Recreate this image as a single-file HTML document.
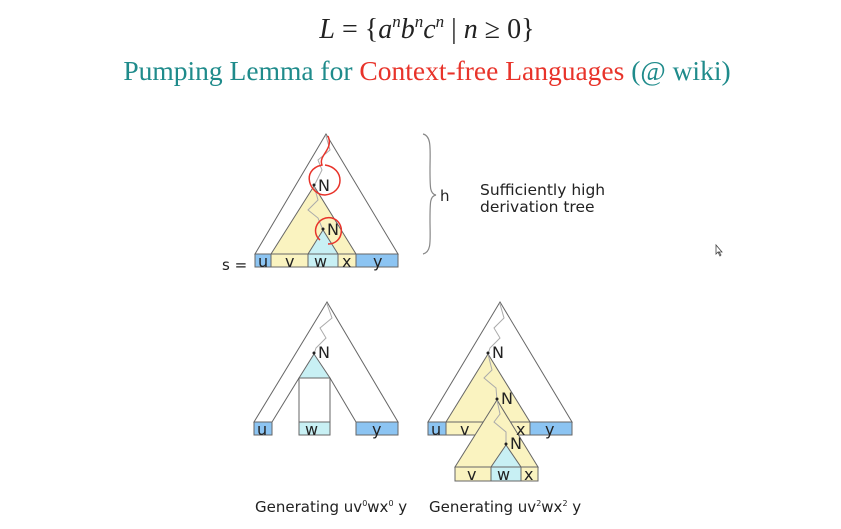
<!DOCTYPE html>
<html><head><style>
body{margin:0;background:#fff;width:841px;height:529px;overflow:hidden}
svg{display:block}
</style></head><body>
<svg width="841" height="529" viewBox="0 0 841 529" xmlns="http://www.w3.org/2000/svg">
<text x="427" y="38" text-anchor="middle" font-family="Liberation Serif,serif" font-size="28" fill="#222"><tspan font-style="italic">L</tspan> = {<tspan font-style="italic">a</tspan><tspan font-style="italic" font-size="17" dy="-11">n</tspan><tspan font-style="italic" dy="11">b</tspan><tspan font-style="italic" font-size="17" dy="-11">n</tspan><tspan font-style="italic" dy="11">c</tspan><tspan font-style="italic" font-size="17" dy="-11">n</tspan><tspan dy="11"> | </tspan><tspan font-style="italic">n</tspan> ≥ 0}</text>
<text x="427" y="80" text-anchor="middle" font-family="Liberation Serif,serif" font-size="27.5" fill="#1f8b8b">Pumping Lemma for <tspan fill="#e8332a">Context-free Languages</tspan> (@ wiki)</text>

<g stroke="#666" stroke-width="1">
<polygon points="326,134 255,254 398,254" fill="#fff"/>
<polygon points="314,186 271,254 356,254" fill="#faf3c0"/>
<polygon points="323,230 308,254 338,254" fill="#c8f0f4"/>
<polyline points="326,136 330,150 318,160 322,170 316,182 314,186" fill="none" stroke="#aaa"/>
<polyline points="314,186 318,200 308,210 318,218 323,230" fill="none" stroke="#aaa"/>
<rect x="255" y="254" width="16" height="13" fill="#8cc4f2"/>
<rect x="271" y="254" width="37" height="13" fill="#faf3c0"/>
<rect x="308" y="254" width="30" height="13" fill="#c8f0f4"/>
<rect x="338" y="254" width="18" height="13" fill="#faf3c0"/>
<rect x="356" y="254" width="42" height="13" fill="#8cc4f2"/>
</g>
<g font-family="DejaVu Sans,sans-serif" font-size="16" fill="#222">
<text x="258" y="267">u</text><text x="285" y="267">v</text><text x="314" y="267">w</text><text x="342" y="267">x</text><text x="373" y="267">y</text>
<text x="222" y="270" font-size="15">s =</text>
<circle cx="314" cy="185" r="1.5"/><text x="318" y="191">N</text>
<circle cx="323" cy="229" r="1.5"/><text x="327" y="235">N</text>
<text x="440" y="201" font-size="15">h</text>
<text x="480" y="195" font-size="15.5">Sufficiently high</text>
<text x="480" y="212" font-size="15.5">derivation tree</text>
</g>
<g fill="none" stroke="#e8332a" stroke-width="1.5">
<path d="M328,136 C334,150 318,155 322,165 C300,170 310,195 325,195 C345,193 345,168 325,165"/>
<path d="M320,240 C310,232 318,215 332,218 C346,222 344,244 328,244"/>
</g>
<path d="M423,134 C432,136 430,150 430,170 C430,188 430,194 436,195 C430,196 430,202 430,220 C430,240 432,252 423,254" fill="none" stroke="#888" stroke-width="1.2"/>

<g stroke="#666" stroke-width="1">
<polygon points="327,302 254,422 272,422 299,378 330,378 356,422 398,422" fill="#fff"/>
<polygon points="314,354 299,378 330,378" fill="#c8f0f4"/>
<rect x="299" y="378" width="31" height="44" fill="#fff"/>
<polyline points="327,304 332,318 320,328 326,338 316,348 314,354" fill="none" stroke="#aaa"/>
<rect x="254" y="422" width="18" height="13" fill="#8cc4f2"/>
<rect x="299" y="422" width="31" height="13" fill="#c8f0f4"/>
<rect x="356" y="422" width="42" height="13" fill="#8cc4f2"/>
</g>
<g stroke="#666" stroke-width="1">
<polygon points="500,302 428,422 572,422" fill="#fff"/>
<polygon points="488,354 446,422 530,422" fill="#faf3c0"/>
<rect x="428" y="422" width="18" height="13" fill="#8cc4f2"/>
<rect x="446" y="422" width="84" height="13" fill="#faf3c0"/>
<rect x="530" y="422" width="42" height="13" fill="#8cc4f2"/>
<polygon points="497,400 455,467 538,467" fill="#faf3c0"/>
<polygon points="506,445 491,467 521,467" fill="#c8f0f4"/>
<polyline points="500,304 504,318 494,328 500,338 490,348 488,354" fill="none" stroke="#aaa"/>
<polyline points="488,354 492,370 484,378 496,388 497,400" fill="none" stroke="#aaa"/>
<polyline points="497,400 500,414 494,422 506,432 506,445" fill="none" stroke="#aaa"/>
<rect x="455" y="467" width="36" height="14" fill="#faf3c0"/>
<rect x="491" y="467" width="30" height="14" fill="#c8f0f4"/>
<rect x="521" y="467" width="17" height="14" fill="#faf3c0"/>
</g>
<g font-family="DejaVu Sans,sans-serif" font-size="16" fill="#222">
<text x="257" y="435">u</text><text x="305" y="435">w</text><text x="372" y="435">y</text>
<circle cx="314" cy="353" r="1.5"/><text x="318" y="358">N</text>
<text x="431" y="435">u</text><text x="460" y="435">v</text><text x="516" y="435">x</text><text x="545" y="435">y</text>
<circle cx="488" cy="353" r="1.5"/><text x="492" y="358">N</text>
<circle cx="497" cy="399" r="1.5"/><text x="501" y="404">N</text>
<circle cx="506" cy="444" r="1.5"/><text x="510" y="449">N</text>
<text x="467" y="480">v</text><text x="497" y="480">w</text><text x="524" y="480">x</text>
<text x="255" y="512" font-size="15">Generating uv<tspan font-size="8" dy="-6">0</tspan><tspan dy="6">wx</tspan><tspan font-size="8" dy="-6">0</tspan><tspan dy="6"> y</tspan></text>
<text x="429" y="512" font-size="15">Generating uv<tspan font-size="8" dy="-6">2</tspan><tspan dy="6">wx</tspan><tspan font-size="8" dy="-6">2</tspan><tspan dy="6"> y</tspan></text>
</g>
<path d="M716,245 l0,9 l2,-2 l2,4 l1,-1 l-2,-3 l3,0 z" fill="#fff" stroke="#444" stroke-width="0.8"/>
</svg>
</body></html>
